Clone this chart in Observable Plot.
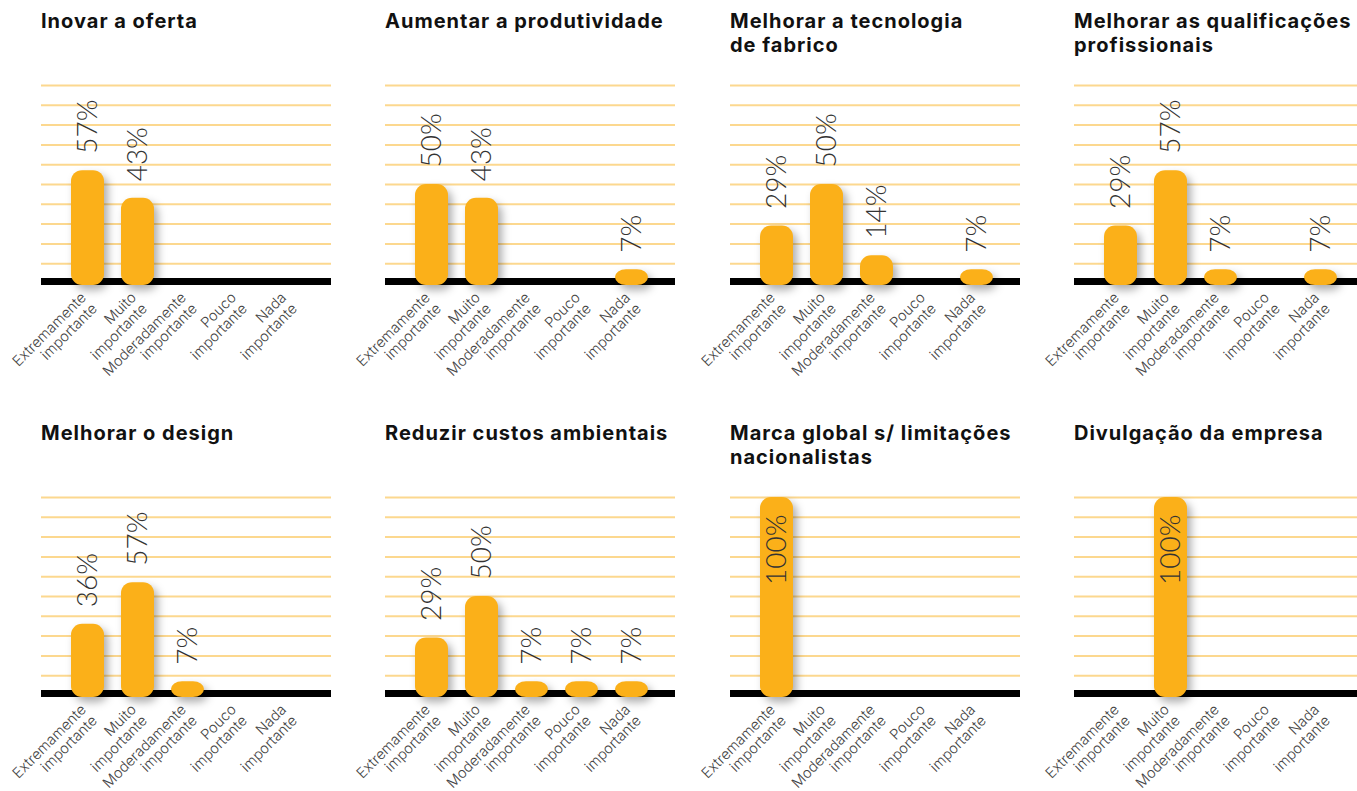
<!DOCTYPE html>
<html><head><meta charset="utf-8">
<script src="https://cdn.jsdelivr.net/npm/d3@7"></script>
<script src="https://cdn.jsdelivr.net/npm/@observablehq/plot@0.6"></script>
<style>
body{margin:0;background:#fff;width:1357px;height:791px;overflow:hidden;position:relative;font-family:Inter,sans-serif}
.title{position:absolute;font-family:Inter,sans-serif;font-weight:700;font-size:20px;line-height:24px;letter-spacing:1px;color:#111;white-space:pre}
.chart{position:absolute;width:345px}
.chart svg{overflow:visible;max-width:none !important}
g[aria-label="bar"]{filter:drop-shadow(4px 5px 4px rgba(0,0,0,0.32))}
</style></head><body>
<script>
const categories = ["Extremamente importante","Muito importante","Moderadamente importante","Pouco importante","Nada importante"];
const tickLabels = ["Extremamente\nimportante","Muito\nimportante","Moderadamente\nimportante","Pouco\nimportante","Nada\nimportante"];
const titles = ["Inovar a oferta","Aumentar a produtividade","Melhorar a tecnologia\nde fabrico","Melhorar as qualificações\nprofissionais","Melhorar o design","Reduzir custos ambientais","Marca global s/ limitações\nnacionalistas","Divulgação da empresa"];
const gridTicks = [10,20,30,40,50,60,70,80,90,100];

const inovarOferta          = [57, 43, 0, 0, 0];
const aumentarProdutividade = [50, 43, 0, 0, 7];
const melhorarTecnologia    = [29, 50, 14, 0, 7];
const melhorarQualificacoes = [29, 57, 7, 0, 7];
const melhorarDesign        = [36, 57, 7, 0, 0];
const reduzirCustos         = [29, 50, 7, 7, 7];
const marcaGlobal           = [100, 0, 0, 0, 0];
const divulgacaoEmpresa     = [0, 100, 0, 0, 0];

const panels = [inovarOferta, aumentarProdutividade, melhorarTecnologia, melhorarQualificacoes,
                melhorarDesign, reduzirCustos, marcaGlobal, divulgacaoEmpresa];

panels.forEach((vals, i) => {
  const col = i % 4, row = Math.floor(i / 4);
  const left = Math.round(col * 344.3), top = row * 412;
  const data = categories.map((c, j) => ({cat: c, label: tickLabels[j], value: vals[j]}));

  const t = document.createElement("div");
  t.className = "title";
  t.style.left = (left + 41) + "px";
  t.style.top = (top + 9) + "px";
  t.textContent = titles[i];
  document.body.appendChild(t);

  const chart = Plot.plot({
    width: 345, height: 323,
    marginLeft: 41, marginRight: 14, marginTop: 25, marginBottom: 100,
    style: {fontFamily: "Lato, sans-serif", background: "transparent"},
    x: {domain: categories, range: [53.5, 320.5], padding: 0.34, axis: null},
    y: {domain: [0, 100], axis: null},
    marks: [
      Plot.ruleY(gridTicks, {stroke: "#fcd88f", strokeWidth: 2}),
      Plot.ruleY([0], {stroke: "#000", strokeWidth: 7, dy: -2}),
      Plot.barY(data.filter(d => d.value > 0), {x: "cat", y: "value", fill: "#fbb019", rx: 11, insetBottom: -2}),
      Plot.text(data.filter(d => d.value > 0 && d.value < 90), {
        x: "cat", y: "value", text: d => d.value + "%", rotate: -90, textAnchor: "start",
        dy: -17, fontSize: 28, fontWeight: 300, fill: "#333"
      }),
      Plot.text(data.filter(d => d.value >= 90), {
        x: "cat", y: "value", text: d => d.value + "%", rotate: -90, textAnchor: "end",
        dy: 17, fontSize: 28, fontWeight: 300, fill: "#333"
      }),
      Plot.text(data, {
        x: "cat", text: "label", frameAnchor: "bottom", dy: 17, dx: 1, rotate: -45,
        textAnchor: "end", lineAnchor: "middle", lineHeight: 1.07, fontSize: 14.5, fontWeight: 300, fill: "#444",
        fontFamily: "Inter, sans-serif"
      })
    ]
  });
  const wrap = document.createElement("div");
  wrap.className = "chart";
  wrap.style.left = left + "px";
  wrap.style.top = (top + 60) + "px";
  wrap.appendChild(chart);
  document.body.appendChild(wrap);
});
</script>
</body></html>
